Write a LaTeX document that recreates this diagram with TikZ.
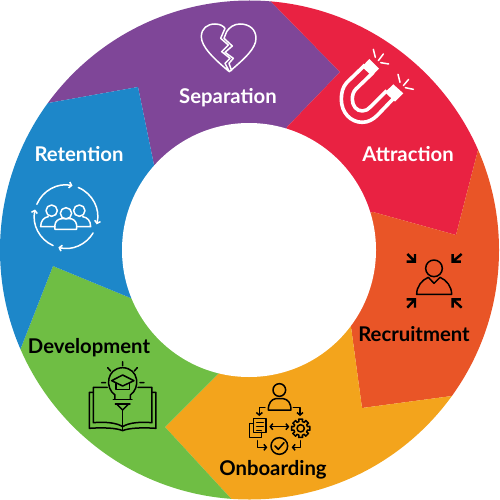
\documentclass[tikz,border=0pt]{standalone}
\usepackage{fontspec}
\setmainfont{Lato}
\usetikzlibrary{arrows.meta}
\definecolor{cpurple}{HTML}{7F4698}
\definecolor{cred}{HTML}{E92242}
\definecolor{corange}{HTML}{E95527}
\definecolor{cyellow}{HTML}{F3A41C}
\definecolor{cgreen}{HTML}{6FBE44}
\definecolor{cblue}{HTML}{1D87C9}
\tikzset{
  zc/.style 2 args={shift={(#1,#2)},x=0.3333pt,y=-0.3333pt},
  lab/.style={font=\bfseries\fontsize{20.3}{20.3}\selectfont,inner sep=0pt,anchor=base},
  ico/.style={line width=1.5pt,line cap=round,line join=round},
  tip/.style={-{Straight Barb[length=2.5pt,width=6pt]}},
  tipb/.style={{Straight Barb[length=2.5pt,width=6pt]}-{Straight Barb[length=2.5pt,width=6pt]}}
}
\begin{document}
\begin{tikzpicture}[x=1pt,y=-1pt]
\useasboundingbox (0,0) rectangle (500,500);
\begin{scope}
\clip (249.5,250) circle (249.5);
\fill[cpurple] (250,250)--(154,165)--(138,87)--(-30,117)--(-30,-30)--(240,-30)--(340,72)--(287,127)--cycle;
\fill[cred] (250,250)--(287,127)--(340,72)--(240,-30)--(530,-60)--(530,-51)--(456,235)--(373,212)--cycle;
\fill[corange] (250,250)--(373,212)--(456,235)--(530,-51)--(530,385.6)--(362,408)--(351,327)--cycle;
\fill[cyellow] (250,250)--(351,327)--(362,408)--(530,385.6)--(530,530)--(260,530)--(165,427)--(220,372)--cycle;
\fill[cgreen] (250,250)--(220,372)--(165,427)--(260,530)--(-30,530)--(-30,478)--(53,266)--(133,299)--cycle;
\fill[cblue] (250,250)--(133,299)--(53,266)--(-30,478)--(-30,117)--(138,87)--(154,165)--cycle;
\end{scope}
\fill[white] (249,250) circle (127);

\node[lab,white] (separation) at (228,103) {Separation};
\node[lab,white] (attraction) at (408,161) {Attraction};
\node[lab,black] (recruitment) at (414,341) {Recruitment};
\node[lab,black] (onboarding) at (273,475) {Onboarding};
\node[lab,black] (development) at (89,353) {Development};
\node[lab,white] (retention) at (79,161) {Retention};

% heart
\begin{scope}[zc={170}{0},ico,white]
\draw (178,215) .. controls (130,175) and (94,140) .. (94,110) .. controls (94,85) and (112,72) .. (135,72) .. controls (150,72) and (160,78) .. (165,85) -- (152,115) -- (175,135) -- (155,155) -- (180,175) -- (165,190) -- (178,215);
\draw (178,215) .. controls (225,175) and (258,145) .. (258,115) .. controls (258,88) and (238,72) .. (210,72) .. controls (192,72) and (178,82) .. (170,95) -- (162,115) -- (187,138) -- (165,157) -- (190,175) -- (177,190) -- (185,212);
\end{scope}

% magnet
\begin{scope}[zc={330}{40},ico,white]
\draw[line width=3.6pt,line cap=butt] (105,75) -- (50,128) .. controls (38,142) and (34,158) .. (34,178) .. controls (34,218) and (62,247) .. (97,247) .. controls (115,247) and (130,238) .. (143,225) -- (190,176);
\draw[line width=3.6pt,line cap=butt] (130,97) -- (78,147) .. controls (70,155) and (67,165) .. (67,178) .. controls (67,198) and (80,213) .. (97,213) .. controls (107,213) and (115,208) .. (122,200) -- (170,152);
\fill (118,57) -- (147,86) -- (125,108) -- (96,80) -- cycle;
\fill (190,133) -- (220,160) -- (195,185) -- (165,157) -- cycle;
\draw (130,28) -- (136,52) (160,42) -- (145,62) (176,72) -- (152,68);
\draw (204,103) -- (210,127) (236,118) -- (220,137) (250,148) -- (226,143);
\end{scope}

% retention
\begin{scope}[zc={0}{130},ico,white]
\draw[tip] ([shift={(198,260)}]203:95) arc[start angle=203,end angle=282,radius=95];
\draw[tip] ([shift={(198,260)}]293:95) arc[start angle=293,end angle=374,radius=95];
\draw[tip] ([shift={(198,260)}]31:95) arc[start angle=31,end angle=104,radius=95];
\draw[tip] ([shift={(198,260)}]114:95) arc[start angle=114,end angle=193,radius=95];
\draw (155,242) circle (17) (238,242) circle (17) (198,250) circle (17);
\draw (165,290) -- (122,290) .. controls (122,272) and (132,262) .. (145,260);
\draw (232,290) -- (272,290) .. controls (272,272) and (262,262) .. (248,260);
\draw (165,298) -- (230,298) -- (230,285) .. controls (228,272) and (218,266) .. (210,266) -- (186,266) .. controls (176,266) and (165,274) .. (165,285) -- cycle;
\end{scope}

% development
\begin{scope}[zc={20}{330},ico,black]
\draw (285,207) -- (285,195) .. controls (255,175) and (258,115) .. (308,113) .. controls (358,115) and (361,175) .. (331,195) -- (331,207);
\draw (280,208) -- (336,208) (286,222) -- (330,222);
\draw (290,222) -- (308,240) -- (326,222);
\draw (275,152) -- (308,135) -- (342,152) -- (308,168) -- cycle;
\draw (288,160) -- (288,178) -- (328,178) -- (328,160);
\draw (308,95) -- (308,107) (263,113) -- (272,123) (352,113) -- (343,123) (245,158) -- (257,158) (360,158) -- (372,158);
\draw (308,240) -- (308,300);
\draw (262,172) -- (220,172) -- (220,278) .. controls (255,275) and (290,278) .. (308,290) .. controls (326,278) and (361,275) .. (396,278) -- (396,172) -- (354,172);
\draw (220,187) -- (208,187) -- (208,295) .. controls (250,292) and (290,294) .. (308,302) .. controls (326,294) and (366,292) .. (408,295) -- (408,187) -- (396,187);
\end{scope}

% onboarding
\begin{scope}[zc={210}{370},ico,black]
\draw (208,60) circle (19);
\draw (175,120) .. controls (175,98) and (185,88) .. (197,86) -- (220,86) .. controls (233,88) and (243,98) .. (243,120) -- cycle;
\draw[tip] (165,112) -- (148,112) -- (148,138);
\draw[tip] (250,112) -- (270,112) -- (270,138);
\draw (130,145) rectangle (168,187);
\draw (130,160) -- (118,160) -- (118,203) -- (155,203) -- (155,187);
\draw (140,158) -- (160,158) (140,170) -- (160,170) (140,181) -- (154,181);
\draw[tipb] (178,170) -- (238,170);
\draw (272,175) circle (11);
\draw ([shift={(272,175)}]-12:28) \foreach \a in {0,45,...,315} { -- ([shift={(272,175)}]\a-12:28) -- ([shift={(272,175)}]\a+12:28) -- ([shift={(272,175)}]\a+14:21) -- ([shift={(272,175)}]\a+31:21) } -- cycle;
\draw (208,228) circle (25);
\draw (195,228) -- (205,238) -- (222,218);
\draw[tip] (143,212) -- (143,232) -- (172,232);
\draw[tip] (272,212) -- (272,232) -- (245,232);
\end{scope}

% recruitment
\begin{scope}[zc={350}{240},ico,black]
\draw (252,85) circle (25);
\draw (200,163) .. controls (200,140) and (215,120) .. (235,112) -- (252,130) -- (270,112) .. controls (290,120) and (305,140) .. (305,163) -- cycle;
\begin{scope}[line width=2.4pt,line cap=butt,line join=miter]
\draw (172,42) -- (193,63) (195,42) -- (195,65) -- (170,65);
\draw (335,42) -- (310,63) (308,42) -- (308,65) -- (333,65);
\draw (172,203) -- (193,180) (195,203) -- (195,178) -- (170,178);
\draw (335,203) -- (310,180) (308,203) -- (308,178) -- (333,178);
\end{scope}
\end{scope}
\end{tikzpicture}
\end{document}
